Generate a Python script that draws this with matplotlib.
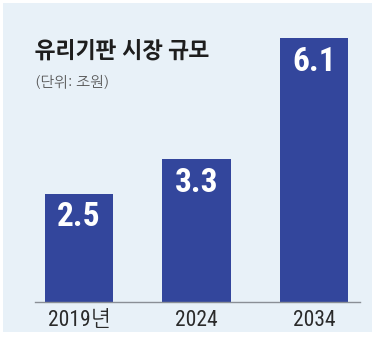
import matplotlib.pyplot as plt
from matplotlib.patches import Rectangle

# market size data (unit: trillion won)
years = ["2019년", "2024", "2034"]
values = [2.5, 3.3, 6.1]

title = "유리기판 시장 규모"
unit_text = "(단위: 조원)"

bar_color = "#33469c"
panel_color = "#e8f1f8"
narrow = ["Roboto Condensed", "NanumGothic", "Noto Sans CJK KR"]

W, H = 375, 337
fig = plt.figure(figsize=(W / 100, H / 100), dpi=100)
fig.patch.set_facecolor("white")

# light blue panel behind everything
fig.patches.append(Rectangle((3 / W, (H - 332) / H), (372 - 3) / W, (332 - 3) / H,
                             transform=fig.transFigure, facecolor=panel_color,
                             edgecolor="none", zorder=-5))

ax = fig.add_axes([35 / W, (H - 302) / H, (360 - 35) / W, (302 - 38) / H])
ax.set_facecolor("none")

x = list(range(len(years)))
ax.bar(x, values, width=0.58, color=bar_color, zorder=2)
ax.set_xlim(-0.374, 2.391)
ax.set_ylim(0, 6.1)

for xi, v in zip(x, values):
    ax.annotate(f"{v}", (xi, v), xytext=(0, -17), textcoords="offset points",
                ha="center", va="center", color="white", fontsize=24,
                fontweight="bold", family=narrow)

for s in ["top", "right", "left"]:
    ax.spines[s].set_visible(False)
ax.spines["bottom"].set_color("#8a8f96")
ax.spines["bottom"].set_linewidth(1)
ax.set_yticks([])
ax.set_xticks(x)
ax.set_xticklabels(years, family=narrow, fontsize=15.5, color="#2a2a2a")
ax.tick_params(axis="x", length=0, pad=6)

fig.text(35 / W, 1 - 51 / H, title, ha="left", va="center", fontsize=15.5,
         fontweight="heavy", color="#1e1e1e", family=["NanumGothic", "Noto Sans CJK KR"])
fig.text(35 / W, 1 - 82 / H, unit_text, ha="left", va="center", fontsize=10.5,
         color="#555555", family=["NanumGothic", "Noto Sans CJK KR"])

fig.savefig("out.png", dpi=100)
